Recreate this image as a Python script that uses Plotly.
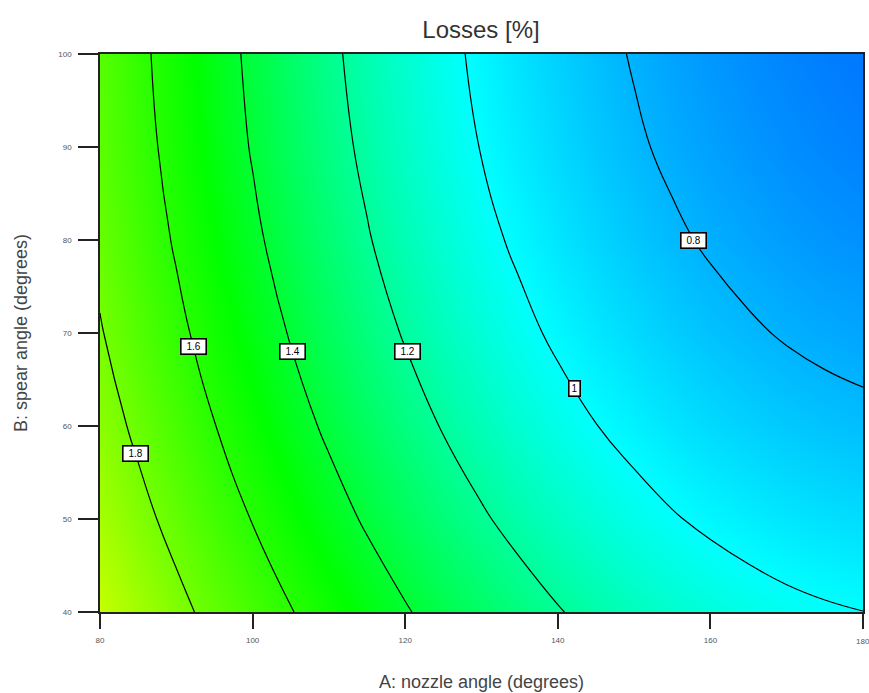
import numpy as np
import plotly.graph_objects as go

# Factor grid (degrees)
nozzle_angle = [80, 85, 90, 95, 100, 105, 110, 115, 120, 125, 130,
                135, 140, 145, 150, 155, 160, 165, 170, 175, 180]
spear_angle = [40, 50, 60, 70, 80, 90, 100]

# Losses [%] at each grid node: one row per spear angle, one column per nozzle angle
losses = [
    [2.015, 1.924, 1.839, 1.757, 1.679, 1.606, 1.536, 1.471, 1.410, 1.353, 1.301,
     1.252, 1.207, 1.167, 1.131, 1.099, 1.071, 1.047, 1.027, 1.012, 1.001],
    [1.933, 1.842, 1.756, 1.673, 1.595, 1.521, 1.451, 1.385, 1.324, 1.266, 1.213,
     1.164, 1.119, 1.078, 1.041, 1.008, 0.980, 0.956, 0.935, 0.919, 0.907],
    [1.864, 1.773, 1.686, 1.603, 1.524, 1.450, 1.379, 1.313, 1.251, 1.193, 1.139,
     1.089, 1.043, 1.002, 0.965, 0.931, 0.902, 0.877, 0.857, 0.840, 0.828],
    [1.809, 1.717, 1.630, 1.546, 1.467, 1.392, 1.321, 1.254, 1.191, 1.132, 1.078,
     1.028, 0.981, 0.939, 0.902, 0.868, 0.838, 0.813, 0.791, 0.774, 0.761],
    [1.767, 1.675, 1.587, 1.503, 1.423, 1.347, 1.275, 1.208, 1.145, 1.086, 1.030,
     0.980, 0.933, 0.890, 0.852, 0.817, 0.787, 0.761, 0.739, 0.721, 0.708],
    [1.739, 1.646, 1.557, 1.472, 1.392, 1.316, 1.244, 1.176, 1.112, 1.052, 0.996,
     0.945, 0.898, 0.854, 0.815, 0.780, 0.750, 0.723, 0.701, 0.682, 0.668],
    [1.724, 1.630, 1.541, 1.456, 1.375, 1.298, 1.225, 1.156, 1.092, 1.032, 0.976,
     0.923, 0.876, 0.832, 0.792, 0.757, 0.725, 0.698, 0.675, 0.656, 0.642],
]

x_ticks = [80, 100, 120, 140, 160, 180]
y_ticks = [40, 50, 60, 70, 80, 90, 100]

# Contour levels that carry a boxed label, and the spear angle where each label sits
label_levels = [1.8, 1.6, 1.4, 1.2, 1.0, 0.8]
label_texts = ["1.8", "1.6", "1.4", "1.2", "1", "0.8"]
label_at_spear = [57, 68.5, 68, 68, 64, 80]

x = np.array(nozzle_angle, dtype=float)
y = np.array(spear_angle, dtype=float)
z = np.array(losses)

# blue -> cyan -> green -> yellow-green colour ramp
zmin, zmax = 0.6, 2.05
def pos(v):
    return (v - zmin) / (zmax - zmin)

colorscale = [
    [0.0, "#0068ff"],
    [pos(0.8), "#00b4ff"],
    [pos(1.0), "#00ffff"],
    [pos(1.5), "#00ff00"],
    [1.0, "#d2ff00"],
]

FONT = "Arial, Liberation Sans, sans-serif"
TICK_FONT = dict(family=FONT, size=8, color="#555")

fig = go.Figure()

fig.add_trace(go.Heatmap(
    x=x, y=y, z=z,
    zmin=zmin, zmax=zmax,
    colorscale=colorscale,
    zsmooth="best",
    showscale=False,
    hoverinfo="skip",
))

fig.add_trace(go.Contour(
    x=x, y=y, z=z,
    contours=dict(coloring="none", start=0.8, end=1.81, size=0.2, showlabels=False),
    line=dict(color="black", width=1.2, smoothing=1.3),
    showscale=False,
    hoverinfo="skip",
))

# Place each label on its contour: interpolate the surface at the chosen spear
# angle, then find the nozzle angle where it crosses the level.
for lvl, txt, b in zip(label_levels, label_texts, label_at_spear):
    row = np.array([np.interp(b, y, z[:, j]) for j in range(len(x))])
    a = float(np.interp(lvl, row[::-1], x[::-1]))
    fig.add_annotation(
        x=a, y=b, text=txt, showarrow=False,
        font=dict(family=FONT, size=10, color="black"),
        width=7 * len(txt) + 1, height=12, align="center",
        bgcolor="white", bordercolor="black", borderwidth=1.6, borderpad=1,
    )

# The last x tick label sits on the page edge and is partly cut off
fig.add_annotation(
    x=x_ticks[-1], xref="x", y=-0.052, yref="paper", yanchor="middle",
    text=str(x_ticks[-1]), showarrow=False, font=TICK_FONT,
)

axis_common = dict(
    showline=True, linecolor="#222", linewidth=1.5, mirror=True,
    ticks="outside", tickcolor="#222", tickwidth=1.5,
    tickfont=TICK_FONT, ticklabelstandoff=5,
    showgrid=False, zeroline=False, automargin=False,
)

fig.update_layout(
    width=869, height=693,
    margin=dict(l=100, r=6, t=54, b=81),
    paper_bgcolor="white", plot_bgcolor="white",
    title=dict(
        text="Losses [%]", x=0.5535, xanchor="center", y=0.957, yanchor="middle",
        font=dict(family=FONT, size=24, color="#333"),
    ),
    xaxis=dict(
        range=[80, 180], tickvals=x_ticks, ticklen=15,
        title=dict(text="A: nozzle angle (degrees)", standoff=31,
                   font=dict(family=FONT, size=18, color="#444")),
        **axis_common,
    ),
    yaxis=dict(
        range=[40, 100], tickvals=y_ticks, ticklen=20,
        title=dict(text="B: spear angle (degrees)", standoff=26,
                   font=dict(family=FONT, size=18, color="#444")),
        **axis_common,
    ),
    showlegend=False,
)

fig.write_html("out.html")
